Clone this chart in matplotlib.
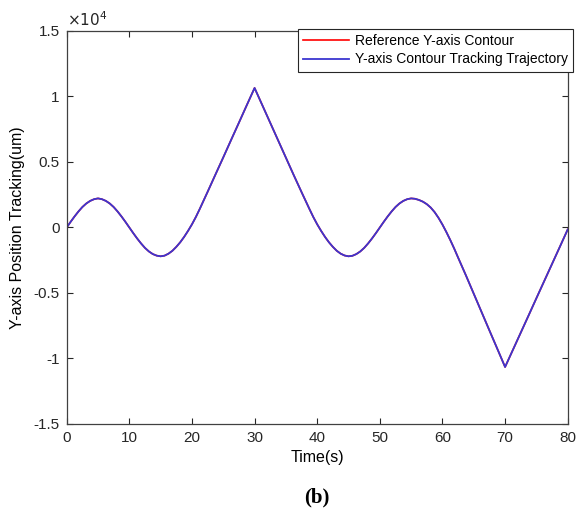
import matplotlib
matplotlib.use("Agg")
import matplotlib.pyplot as plt
from matplotlib.ticker import FuncFormatter

plt.rcParams['font.family'] = ['Liberation Sans', 'DejaVu Sans']

time_s = [0, 0.625, 1.25, 1.875, 2.5, 3.125, 3.75, 4.375, 5, 5.625, 6.25, 6.875, 7.5, 8.125, 8.75, 9.375,
          10, 10.625, 11.25, 11.875, 12.5, 13.125, 13.75, 14.375, 15, 15.625, 16.25, 16.875, 17.5, 18.125,
          18.75, 19.375, 20, 20.625,
          21.25, 22.5, 23.75, 25, 26.25, 27.5, 28.75, 30, 31.25, 32.5, 33.75, 35, 36.25, 37.5, 38.75,
          39.375, 40, 40.625, 41.25, 41.875, 42.5, 43.125, 43.75, 44.375, 45, 45.625, 46.25, 46.875, 47.5,
          48.125, 48.75, 49.375, 50, 50.625, 51.25, 51.875, 52.5, 53.125, 53.75, 54.375, 55, 55.625, 56.25,
          56.875, 57.5, 58.125, 58.75, 59.375, 60, 60.625, 61.25, 61.875, 62.5,
          63.75, 65, 66.25, 67.5, 68.75, 70, 71.25, 72.5, 73.75, 75, 76.25, 77.5, 78.75, 80]

reference_y = [0, 430, 840, 1220, 1560, 1830, 2030, 2160, 2220, 2160, 2030, 1830, 1560, 1220, 840, 430,
               0, -430, -840, -1220, -1560, -1830, -2030, -2150, -2200, -2150, -2000, -1780, -1480, -1130,
               -720, -260, 240, 800,
               1420, 2720, 4040, 5350, 6680, 8000, 9330, 10650, 9320, 7990, 6660, 5330, 4000, 2700, 1420,
               800, 240, -260, -720, -1130, -1480, -1780, -2000, -2140, -2200, -2160, -2030, -1830, -1560,
               -1220, -840, -430, 0, 430, 840, 1220, 1560, 1830, 2030, 2160, 2220, 2190, 2100,
               1970, 1780, 1520, 1170, 730, 220, -350, -960, -1610, -2300,
               -3660, -5060, -6460, -7860, -9250, -10650, -9340, -8030, -6720, -5400, -4090, -2780, -1470, -150]

tracking_y = list(reference_y)

x_ticks = [0, 10, 20, 30, 40, 50, 60, 70, 80]
y_ticks = [-15000, -10000, -5000, 0, 5000, 10000, 15000]

fig = plt.figure(figsize=(5.78, 5.12), dpi=100)
ax = fig.add_axes([0.1154, 0.1719, 0.8668, 0.7676])

ax.plot(time_s, reference_y, color='#ff0000', lw=1.2, label='Reference Y-axis Contour')
ax.plot(time_s, tracking_y, color='#3b36d0', lw=1.3, label='Y-axis Contour Tracking Trajectory')

ax.set_xlim(0, 80)
ax.set_ylim(-15000, 15000)
ax.set_xticks(x_ticks)
ax.set_yticks(y_ticks)
ax.yaxis.set_major_formatter(FuncFormatter(lambda v, p: '%g' % (v / 1e4)))
ax.tick_params(direction='in', top=True, right=True, length=4, width=0.8,
               labelsize=11, colors='#262626', pad=5)
for s in ax.spines.values():
    s.set_color('#404040')
    s.set_linewidth(0.9)

ax.text(0.0, 1.005, r'$\times10^4$', transform=ax.transAxes, fontsize=11,
        ha='left', va='bottom', color='#262626')

ax.set_xlabel('Time(s)', fontsize=11.5, labelpad=4)
ax.set_ylabel('Y-axis Position Tracking(um)', fontsize=11.5, labelpad=6)

leg = ax.legend(loc='upper right', bbox_to_anchor=(573/578, 1 - 29/512),
                bbox_transform=fig.transFigure, fontsize=10, frameon=True,
                fancybox=False, edgecolor='#262626', framealpha=1,
                handlelength=3.3, borderpad=0.38, labelspacing=0.3,
                handletextpad=0.4, borderaxespad=0)
leg.get_frame().set_linewidth(0.8)

fig.text(0.5 * (0.1154 + 0.982), 1 - 497/512, '(b)', fontsize=15, fontweight='bold',
         family='Liberation Serif', ha='center', va='center')

fig.savefig('out.png', dpi=100)
